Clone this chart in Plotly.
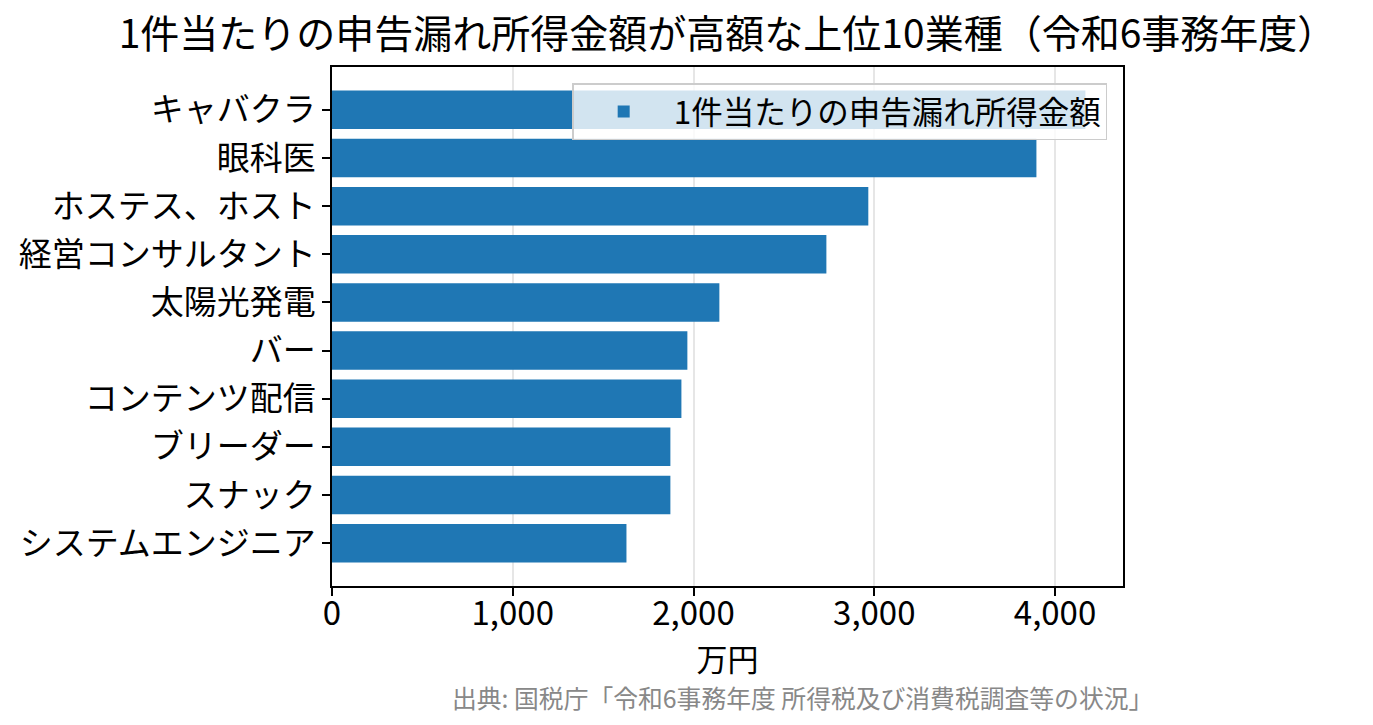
import plotly.graph_objects as go

# 業種と1件当たりの申告漏れ所得金額（万円）
industries = ["キャバクラ", "眼科医", "ホステス、ホスト", "経営コンサルタント", "太陽光発電",
              "バー", "コンテンツ配信", "ブリーダー", "スナック", "システムエンジニア"]
amounts = [4168, 3897, 2967, 2735, 2143, 1966, 1933, 1872, 1872, 1629]

x_ticks = [0, 1000, 2000, 3000, 4000]
x_max = 4376

FONT = "Noto Sans CJK JP"

fig = go.Figure()
fig.add_trace(go.Bar(
    name="1件当たりの申告漏れ所得金額",
    x=amounts, y=industries,
    orientation="h",
    width=0.8,
    marker=dict(color="#1f77b4", line=dict(width=0)),
))

# the page has an 8px body margin, so the margins are shifted by 8px
fig.update_layout(
    width=1373, height=725,
    margin=dict(l=324, r=258, t=59, b=147),
    paper_bgcolor="white", plot_bgcolor="white",
    font=dict(family=FONT, size=33, color="black"),
    title=dict(text="1件当たりの申告漏れ所得金額が高額な上位10業種（令和6事務年度）",
               x=0.5, xref="paper", xanchor="center",
               y=1 - 26 / 725, yref="container", yanchor="middle",
               font=dict(family=FONT, size=39, color="black")),
    showlegend=True,
    legend=dict(x=0.98, y=0.969, xanchor="right", yanchor="top",
                bgcolor="rgba(255,255,255,0.8)", bordercolor="#cccccc", borderwidth=1.5,
                itemwidth=90,
                font=dict(family=FONT, size=31.5, color="black")),
    bargap=0.2,
)

fig.update_xaxes(
    range=[0, x_max], tickvals=x_ticks, tickformat=",d",
    showgrid=True, gridcolor="rgba(176,176,176,0.32)", gridwidth=1.5,
    layer="above traces",
    showline=True, linecolor="black", linewidth=1.5, mirror=True,
    ticks="outside", ticklen=8, tickwidth=1.5, tickcolor="black",
    ticklabelstandoff=-10,
    zeroline=False,
    title=dict(text="万円", standoff=0, font=dict(family=FONT, size=31)),
)
fig.update_yaxes(
    type="category", categoryorder="array", categoryarray=industries,
    range=[9.89, -0.89],
    showgrid=False,
    showline=True, linecolor="black", linewidth=1.5, mirror=True,
    ticks="outside", ticklen=8, tickwidth=1.5, tickcolor="black",
    layer="above traces",
)

fig.add_annotation(
    text="出典: 国税庁「令和6事務年度 所得税及び消費税調査等の状況」",
    xref="paper", yref="paper", x=(1155 - 332) / 791, y=(586 - 697) / 519,
    xanchor="right", yanchor="middle", showarrow=False,
    font=dict(family=FONT, size=24.8, color="#888888"),
)

fig.write_html("out.html")
